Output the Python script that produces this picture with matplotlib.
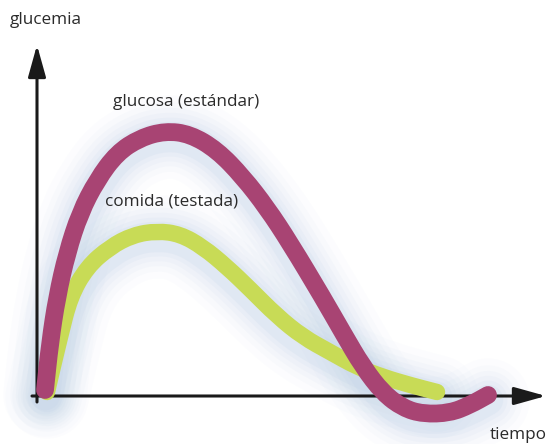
import numpy as np
import matplotlib.pyplot as plt
from matplotlib.path import Path
from matplotlib.patches import PathPatch

plt.rcParams['font.family'] = ['Open Sans', 'DejaVu Sans']

# curves (time, glucemia), origin at axis crossing
glucosa_t = [8, 13, 20, 30, 43, 60, 80, 103, 128, 153, 180, 206, 230, 253,
             286, 306, 326, 346, 366, 386, 413, 433, 451]
glucosa_g = [6, 53, 99, 143, 183, 216, 243, 258, 265, 262, 246, 219, 188, 153,
             98, 63, 29, 3, -12, -18, -17, -9, 1]

comida_t = [10, 16, 23, 33, 50, 73, 96, 120, 143, 166, 190, 213, 240, 266, 293, 320,
            346, 373, 400]
comida_g = [4, 30, 59, 99, 129, 149, 161, 165, 162, 149, 129, 107, 80, 59, 44, 29,
            19, 11, 4]

mag = '#a84473'
lime = '#c8db56'
glow = '#b6cbe6'


def smooth_path(xs, ys, dy=0):
    # quadratic segments through midpoints so the stroke has no corners
    pts = np.column_stack([xs, np.array(ys, float) + dy])
    verts = [pts[0], (pts[0] + pts[1]) / 2]
    codes = [Path.MOVETO, Path.LINETO]
    for i in range(1, len(pts) - 1):
        verts += [pts[i], (pts[i] + pts[i + 1]) / 2]
        codes += [Path.CURVE3, Path.CURVE3]
    verts.append(pts[-1])
    codes.append(Path.LINETO)
    return Path(verts, codes)


def stroke(ax, xs, ys, color, lw, alpha=1, z=4, dy=0):
    ax.add_patch(PathPatch(smooth_path(xs, ys, dy), fill=False, edgecolor=color, lw=lw,
                           alpha=alpha, capstyle='round', joinstyle='round', zorder=z))


fig = plt.figure(figsize=(5.47, 4.44), dpi=100)
ax = fig.add_axes([0, 0, 1, 1])
ax.set_xlim(-37, 510)
ax.set_ylim(-48, 396)
ax.axis('off')

# soft bluish glow behind the curves
for w, a in [(60, 0.04), (50, 0.05), (42, 0.07), (35, 0.08), (28, 0.10), (22, 0.14)]:
    stroke(ax, comida_t, comida_g, glow, w, a, 1, -5)
    stroke(ax, glucosa_t, glucosa_g, glow, w, a, 1, -5)

# axes with arrow heads
ax.annotate('', xy=(0, 351), xytext=(0, -6),
            arrowprops=dict(arrowstyle='-|>,head_length=0.97,head_width=0.27',
                            mutation_scale=20, color='#1a1a1a', lw=2.2,
                            shrinkA=0, shrinkB=0), zorder=3)
ax.annotate('', xy=(509, 0), xytext=(-5, 0),
            arrowprops=dict(arrowstyle='-|>,head_length=0.97,head_width=0.27',
                            mutation_scale=20, color='#1a1a1a', lw=2.2,
                            shrinkA=0, shrinkB=0), zorder=3)

stroke(ax, comida_t, comida_g, lime, 11.8, z=4)
stroke(ax, glucosa_t, glucosa_g, mag, 12.8, z=5)

txt = dict(fontsize=12.3, color='#2a2a2a')
ax.text(-27, 376, 'glucemia', ha='left', va='center', **txt)
ax.text(76, 294, 'glucosa (estándar)', ha='left', va='center', **txt)
ax.text(68, 194, 'comida (testada)', ha='left', va='center', **txt)
ax.text(510, -39, 'tiempo', ha='right', va='center', **txt)

fig.savefig('out.png', dpi=100)
